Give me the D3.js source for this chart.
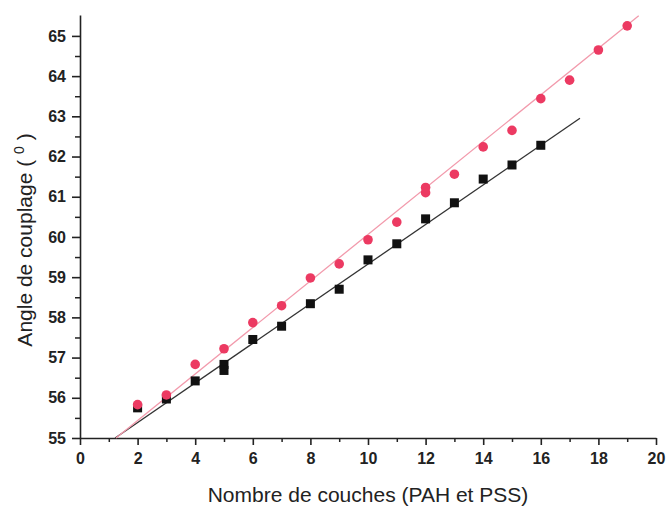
<!DOCTYPE html>
<html>
<head>
<meta charset="utf-8">
<script src="https://cdn.jsdelivr.net/npm/d3@7"></script>
<style>
  body { margin: 0; background: #fff; }
  svg { font-family: "Liberation Sans", Arial, sans-serif; }
</style>
</head>
<body>
<div id="chart"></div>
<script>
// PAH/PSS series (circles, red) and reference series (squares, black)
const redX = [2, 3, 4, 5, 6, 7, 8, 9, 10, 11, 12, 12, 13, 14, 15, 16, 17, 18, 19];
const redY = [55.83, 56.07, 56.83, 57.22, 57.87, 58.29, 58.98, 59.33, 59.93, 60.37, 61.23, 61.10, 61.56, 62.24, 62.65, 63.44, 63.90, 64.65, 65.25];

const blackX = [2, 3, 4, 5, 5, 6, 7, 8, 9, 10, 11, 12, 13, 14, 15, 16];
const blackY = [55.75, 55.97, 56.42, 56.83, 56.68, 57.45, 57.78, 58.34, 58.70, 59.43, 59.83, 60.45, 60.85, 61.44, 61.79, 62.28];

// linear fit segments (start / end points)
const redFitX = [1.25, 19.4];
const redFitY = [55, 65.5];
const blackFitX = [1.22, 17.36];
const blackFitY = [55, 62.95];

const xTicks = [0, 2, 4, 6, 8, 10, 12, 14, 16, 18, 20];
const yTicks = [55, 56, 57, 58, 59, 60, 61, 62, 63, 64, 65];

const width = 666, height = 507;
const margin = { top: 15, right: 10, bottom: 69, left: 80 };

const svg = d3.select('#chart')
    .append('svg')
    .attr('width', width)
    .attr('height', height);

const x = d3.scaleLinear()
    .domain([0, 20])
    .range([margin.left, 656]);

const y = d3.scaleLinear()
    .domain([55, 65.52])
    .range([438, margin.top]);

// minor ticks
svg.append('g')
    .attr('transform', `translate(0,${y(55)})`)
    .call(d3.axisBottom(x).tickValues(d3.range(1, 20, 2)).tickSize(4).tickFormat(''))
    .call(g => g.select('.domain').remove())
    .selectAll('line').attr('stroke', '#222').attr('stroke-width', 1.5);

svg.append('g')
    .attr('transform', `translate(${x(0)},0)`)
    .call(d3.axisLeft(y).tickValues(d3.range(55.5, 65.5, 1)).tickSize(5).tickFormat(''))
    .call(g => g.select('.domain').remove())
    .selectAll('line').attr('stroke', '#222').attr('stroke-width', 1.5);

// main axes
const xAxis = svg.append('g')
    .attr('transform', `translate(0,${y(55)})`)
    .call(d3.axisBottom(x).tickValues(xTicks).tickSize(7).tickSizeOuter(0).tickPadding(8));

const yAxis = svg.append('g')
    .attr('transform', `translate(${x(0)},0)`)
    .call(d3.axisLeft(y).tickValues(yTicks).tickSize(8).tickSizeOuter(0).tickPadding(6));

[xAxis, yAxis].forEach(a => {
    a.select('.domain').attr('stroke', '#222').attr('stroke-width', 1.6);
    a.selectAll('line').attr('stroke', '#222').attr('stroke-width', 1.6);
    a.selectAll('text')
        .attr('fill', '#222')
        .style('font-size', '16px')
        .style('font-weight', 'bold');
});

// fit lines
svg.append('line')
    .attr('x1', x(blackFitX[0])).attr('y1', y(blackFitY[0]))
    .attr('x2', x(blackFitX[1])).attr('y2', y(blackFitY[1]))
    .attr('stroke', '#333')
    .attr('stroke-width', 1.3);

svg.append('line')
    .attr('x1', x(redFitX[0])).attr('y1', y(redFitY[0]))
    .attr('x2', x(redFitX[1])).attr('y2', y(redFitY[1]))
    .attr('stroke', '#f29aac')
    .attr('stroke-width', 1.3);

// squares
const sq = 9;
svg.append('g')
    .selectAll('rect')
    .data(blackX.map((d, i) => [d, blackY[i]]))
    .enter()
    .append('rect')
    .attr('x', d => x(d[0]) - sq / 2)
    .attr('y', d => y(d[1]) - sq / 2)
    .attr('width', sq)
    .attr('height', sq)
    .attr('fill', '#111');

// circles
svg.append('g')
    .selectAll('circle')
    .data(redX.map((d, i) => [d, redY[i]]))
    .enter()
    .append('circle')
    .attr('cx', d => x(d[0]))
    .attr('cy', d => y(d[1]))
    .attr('r', 4.8)
    .attr('fill', '#ec3a62');

// axis titles
svg.append('text')
    .attr('x', 368)
    .attr('y', 502)
    .attr('text-anchor', 'middle')
    .attr('fill', '#222')
    .style('font-size', '21px')
    .text('Nombre de couches (PAH et PSS)');

const yLabel = svg.append('text')
    .attr('transform', 'translate(32,240) rotate(-90)')
    .attr('text-anchor', 'middle')
    .attr('fill', '#222')
    .style('font-size', '21px');
yLabel.append('tspan').text('Angle de couplage ( ');
yLabel.append('tspan').attr('dy', -8).style('font-size', '14px').text('0');
yLabel.append('tspan').attr('dy', 8).text(' )');
</script>
</body>
</html>
